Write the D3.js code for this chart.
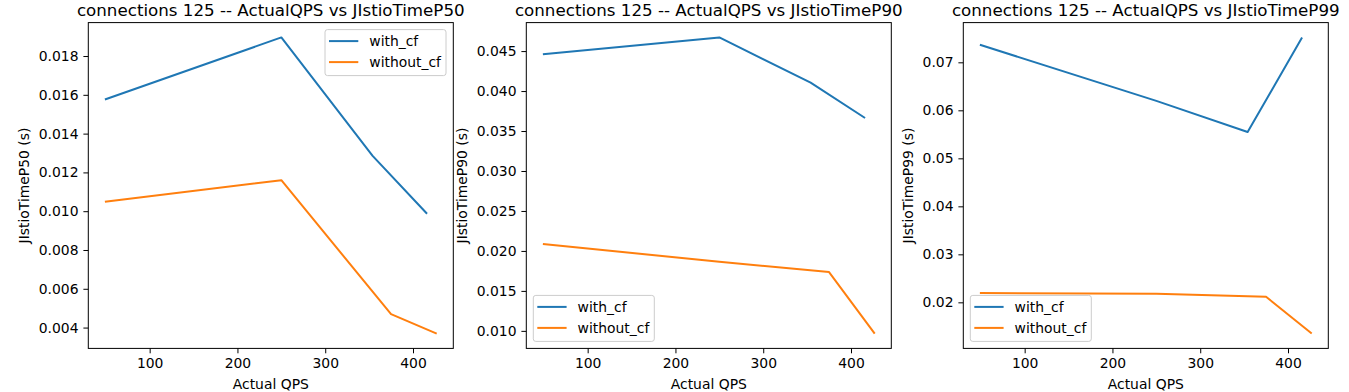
<!DOCTYPE html>
<html><head><meta charset="utf-8">
<script src="https://cdn.jsdelivr.net/npm/d3@7"></script>
<style>
html,body{margin:0;padding:0;background:#fff;}
svg{display:block;font-family:"DejaVu Sans",sans-serif;}
</style></head>
<body>
<svg id="chart" width="1349" height="392"></svg>
<script>
// ---- data ----
const seriesNames = ["with_cf", "without_cf"];
const qpsWithCf    = [49, 250, 354, 416];
const qpsWithoutCf = [49, 250, 375, 427];

const p50WithCf    = [0.01576, 0.01896, 0.01285, 0.00987];
const p50WithoutCf = [0.01049, 0.01160, 0.00469, 0.00369];

const p90WithCf    = [0.04459, 0.04671, 0.04105, 0.03663];
const p90WithoutCf = [0.02086, 0.01865, 0.01736, 0.00966];

const p99WithCf    = [0.07365, 0.06197, 0.05548, 0.07519];
const p99WithoutCf = [0.02193, 0.02178, 0.02116, 0.01349];

const xTicks = [100, 200, 300, 400];
const p50Ticks = [0.004, 0.006, 0.008, 0.010, 0.012, 0.014, 0.016, 0.018];
const p90Ticks = [0.010, 0.015, 0.020, 0.025, 0.030, 0.035, 0.040, 0.045];
const p99Ticks = [0.02, 0.03, 0.04, 0.05, 0.06, 0.07];

const titles = ["connections 125 -- ActualQPS vs JIstioTimeP50",
                "connections 125 -- ActualQPS vs JIstioTimeP90",
                "connections 125 -- ActualQPS vs JIstioTimeP99"];
const yLabels = ["JIstioTimeP50 (s)", "JIstioTimeP90 (s)", "JIstioTimeP99 (s)"];
const xLabel = "Actual QPS";

// ---- layout ----
const colors = ["#1f77b4", "#ff7f0e"];
const panelLeft = [88.3, 526.3, 963.3];
const panelW = 365, plotTop = 22.6, plotBottom = 348.4;
const legendPos = ["ur", "ll", "ll"];
const fs = 13.9;

const panels = [
  {y: [p50WithCf, p50WithoutCf], ticks: p50Ticks, fmt: d3.format(".3f")},
  {y: [p90WithCf, p90WithoutCf], ticks: p90Ticks, fmt: d3.format(".3f")},
  {y: [p99WithCf, p99WithoutCf], ticks: p99Ticks, fmt: d3.format(".2f")}
];
const xs = [qpsWithCf, qpsWithoutCf];

const svg = d3.select("#chart");

function padded(vals) {
  const [a, b] = d3.extent(vals);
  const m = (b - a) * 0.05;
  return [a - m, b + m];
}

panels.forEach((p, i) => {
  const L = panelLeft[i], R = L + panelW;
  const x = d3.scaleLinear().domain(padded(xs.flat())).range([L, R]);
  const y = d3.scaleLinear().domain(padded(p.y.flat())).range([plotBottom, plotTop]);
  const g = svg.append("g");

  // lines
  const line = d3.line();
  p.y.forEach((ys, s) => {
    g.append("path")
      .attr("d", line(ys.map((v, k) => [x(xs[s][k]), y(v)])))
      .attr("fill", "none").attr("stroke", colors[s]).attr("stroke-width", 2)
      .attr("stroke-linejoin", "round").attr("stroke-linecap", "butt");
  });

  // axes
  const xa = g.append("g").attr("transform", `translate(0,${plotBottom})`)
    .call(d3.axisBottom(x).tickValues(xTicks).tickSize(4.9).tickPadding(4.5).tickFormat(d3.format("d")));
  const ya = g.append("g").attr("transform", `translate(${L},0)`)
    .call(d3.axisLeft(y).tickValues(p.ticks).tickSize(4.9).tickPadding(4.9).tickFormat(p.fmt));
  [xa, ya].forEach(a => {
    a.select(".domain").remove();
    a.selectAll("line").attr("stroke", "#000").attr("stroke-width", 1);
    a.selectAll("text").attr("font-size", fs).attr("font-family", "DejaVu Sans").attr("fill", "#000");
  });

  // frame
  g.append("rect").attr("x", L).attr("y", plotTop).attr("width", panelW).attr("height", plotBottom - plotTop)
    .attr("fill", "none").attr("stroke", "#000").attr("stroke-width", 1);

  // title
  g.append("text").attr("x", (L + R) / 2).attr("y", 15.5).attr("text-anchor", "middle")
    .attr("font-size", 16.7).text(titles[i]);

  // x label
  g.append("text").attr("x", (L + R) / 2).attr("y", 388.5).attr("text-anchor", "middle")
    .attr("font-size", fs).text(xLabel);

  // y label
  let maxW = 0;
  ya.selectAll("text").each(function () { maxW = Math.max(maxW, this.getComputedTextLength()); });
  const tickLeft = L - 4.9 - 4.9 - maxW;
  const ylx = tickLeft - 14.8, yly = (plotTop + plotBottom) / 2;
  g.append("text").attr("transform", `translate(${ylx},${yly}) rotate(-90)`)
    .attr("text-anchor", "middle").attr("dominant-baseline", "central")
    .attr("font-size", fs).text(yLabels[i]);

  // legend
  const lw = 121, lh = 46;
  const lx = legendPos[i] === "ur" ? R - 7.3 - lw : L + 7;
  const ly = legendPos[i] === "ur" ? plotTop + 7 : plotBottom - 7 - lh;
  const lg = g.append("g").attr("transform", `translate(${lx},${ly})`);
  lg.append("rect").attr("width", lw).attr("height", lh).attr("rx", 2.5)
    .attr("fill", "#fff").attr("fill-opacity", 0.8).attr("stroke", "#cccccc").attr("stroke-width", 1);
  seriesNames.forEach((n, s) => {
    const ry = 11.5 + s * 21;
    lg.append("line").attr("x1", 4).attr("x2", 33.3).attr("y1", ry).attr("y2", ry)
      .attr("stroke", colors[s]).attr("stroke-width", 2);
    lg.append("text").attr("x", 44.3).attr("y", ry).attr("dy", "0.35em")
      .attr("font-size", fs).text(n);
  });
});
</script>
</body></html>
